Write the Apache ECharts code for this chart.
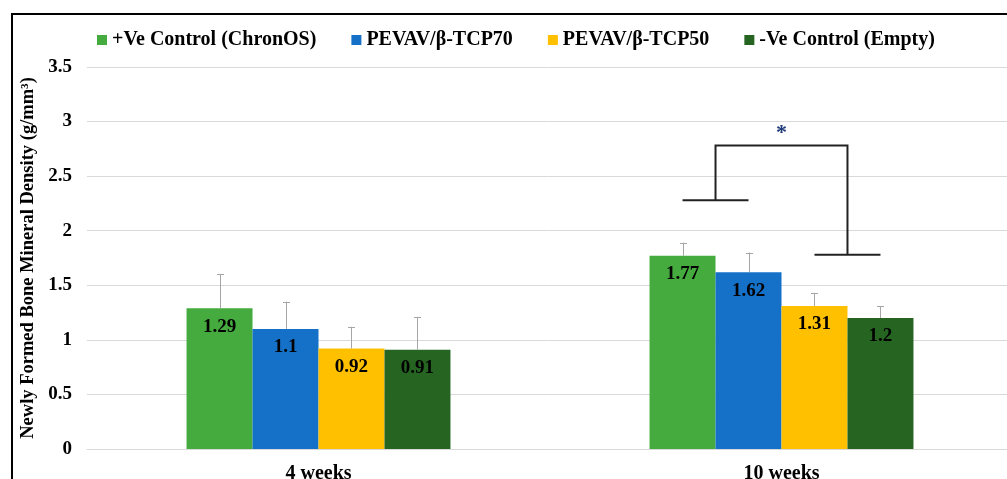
<!DOCTYPE html>
<html>
<head>
<meta charset="utf-8">
<script src="https://cdn.jsdelivr.net/npm/echarts@6/dist/echarts.min.js"></script>
<style>
html,body{margin:0;padding:0;background:#fff;}
#chart{width:1007px;height:479px;}
</style>
</head>
<body>
<div id="chart"></div>
<script>
var categories = ['4 weeks', '10 weeks'];
var seriesNames = ['+Ve Control (ChronOS)', 'PEVAV/β-TCP70', 'PEVAV/β-TCP50', '-Ve Control (Empty)'];
var chronosValues = [1.29, 1.77];
var tcp70Values = [1.1, 1.62];
var tcp50Values = [0.92, 1.31];
var emptyValues = [0.91, 1.2];
var chronosErr = [0.31, 0.12];
var tcp70Err = [0.25, 0.18];
var tcp50Err = [0.20, 0.12];
var emptyErr = [0.30, 0.11];
var yTicks = [0, 0.5, 1, 1.5, 2, 2.5, 3, 3.5];
// significance bracket (10 weeks): left pair level, right pair level, top level, star level
var bracketCategory = 1;
var bracketLevels = [2.28, 1.78];
var bracketTop = 2.78;
var starLevel = 2.89;

var colors = ['#45AB3E', '#1570C7', '#FFC000', '#266422'];
var values = [chronosValues, tcp70Values, tcp50Values, emptyValues];
var errs = [chronosErr, tcp70Err, tcp50Err, emptyErr];
var FONT = "'Liberation Serif', 'Times New Roman', serif";
var GAP = 0.43;

var errData = [];
for (var s = 0; s < 4; s++) {
  for (var c = 0; c < categories.length; c++) {
    errData.push([c, s, values[s][c], errs[s][c]]);
  }
}

function barOffset(api, idx) {
  var band = api.size([1, 0])[0];
  var bw = band * (1 - GAP) / 4;
  return { off: (idx - 1.5) * bw, bw: bw };
}

var series = [];
for (var i = 0; i < 4; i++) {
  series.push({
    name: seriesNames[i],
    type: 'bar',
    data: values[i],
    barGap: '0%',
    barCategoryGap: (GAP * 100) + '%',
    itemStyle: { color: colors[i] },
    label: {
      show: true,
      position: 'insideTop',
      distance: 9,
      color: '#000',
      fontFamily: FONT,
      fontWeight: 'bold',
      fontSize: 19
    },
    z: 2
  });
}

series.push({
  type: 'custom',
  name: 'err',
  data: errData,
  z: 3,
  silent: true,
  renderItem: function (params, api) {
    var c = api.value(0), s = api.value(1), v = api.value(2), e = api.value(3);
    var o = barOffset(api, s);
    var p0 = api.coord([c, v]);
    var p1 = api.coord([c, v + e]);
    var x = Math.round(p0[0] + o.off) + 0.5;
    var style = { stroke: '#A6A6A6', lineWidth: 1 };
    return {
      type: 'group',
      children: [
        { type: 'line', shape: { x1: x, y1: p0[1], x2: x, y2: p1[1] }, style: style },
        { type: 'line', shape: { x1: x - 3.5, y1: Math.round(p1[1]) + 0.5, x2: x + 3.5, y2: Math.round(p1[1]) + 0.5 }, style: style }
      ]
    };
  }
});

series.push({
  type: 'custom',
  name: 'bracket',
  data: [[bracketCategory, bracketLevels[0], bracketLevels[1], bracketTop, starLevel]],
  z: 4,
  silent: true,
  renderItem: function (params, api) {
    var c = api.value(0);
    var b = barOffset(api, 0);
    var bw = b.bw;
    var cx = api.coord([c, 0])[0];
    var yL = api.coord([c, api.value(1)])[1];
    var yR = api.coord([c, api.value(2)])[1];
    var yT = api.coord([c, api.value(3)])[1];
    var yS = api.coord([c, api.value(4)])[1];
    var lx1 = cx - 1.5 * bw, lx2 = cx - 0.5 * bw, lm = cx - bw;
    var rx1 = cx + 0.5 * bw, rx2 = cx + 1.5 * bw, rm = cx + bw;
    var st = { stroke: '#222', lineWidth: 2, fill: null };
    return {
      type: 'group',
      children: [
        { type: 'line', shape: { x1: lx1, y1: yL, x2: lx2, y2: yL }, style: st },
        { type: 'line', shape: { x1: rx1, y1: yR, x2: rx2, y2: yR }, style: st },
        { type: 'polyline', shape: { points: [[lm, yL], [lm, yT], [rm, yT], [rm, yR]] }, style: st },
        { type: 'text', x: cx, y: yS, style: { text: '*', fill: '#1F3A7A', font: 'bold 22px ' + FONT, align: 'center', verticalAlign: 'middle' } }
      ]
    };
  }
});

var chart = echarts.init(document.getElementById('chart'), null, { renderer: 'canvas' });
chart.setOption({
  animation: false,
  backgroundColor: '#fff',
  color: colors,
  legend: {
    data: seriesNames,
    left: 92,
    top: 25,
    itemWidth: 10,
    itemHeight: 10,
    itemGap: 35,
    icon: 'rect',
    textStyle: { fontFamily: FONT, fontWeight: 'bold', fontSize: 20, color: '#000' }
  },
  grid: { left: 87, right: -6, top: 67, bottom: 30, outerBoundsMode: 'none' },
  xAxis: {
    type: 'category',
    data: categories,
    axisTick: { show: false },
    axisLine: { show: true, lineStyle: { color: '#D9D9D9', width: 1 } },
    axisLabel: { color: '#000', fontFamily: FONT, fontWeight: 'bold', fontSize: 20, margin: 15 }
  },
  yAxis: {
    type: 'value',
    min: yTicks[0],
    max: yTicks[yTicks.length - 1],
    interval: yTicks[1] - yTicks[0],
    name: 'Newly Formed Bone Mineral Density (g/mm³)',
    nameLocation: 'middle',
    nameGap: 49,
    nameTextStyle: { color: '#000', fontFamily: FONT, fontWeight: 'bold', fontSize: 18.5 },
    axisLine: { show: false },
    axisTick: { show: false },
    splitLine: { lineStyle: { color: '#D9D9D9', width: 1 } },
    axisLabel: { color: '#000', fontFamily: FONT, fontWeight: 'bold', fontSize: 19, margin: 15 }
  },
  graphic: [
    { type: 'rect', shape: { x: 12, y: 14, width: 1200, height: 700 }, style: { fill: null, stroke: '#000', lineWidth: 2 }, z: 100, silent: true }
  ],
  series: series
});
</script>
</body>
</html>
